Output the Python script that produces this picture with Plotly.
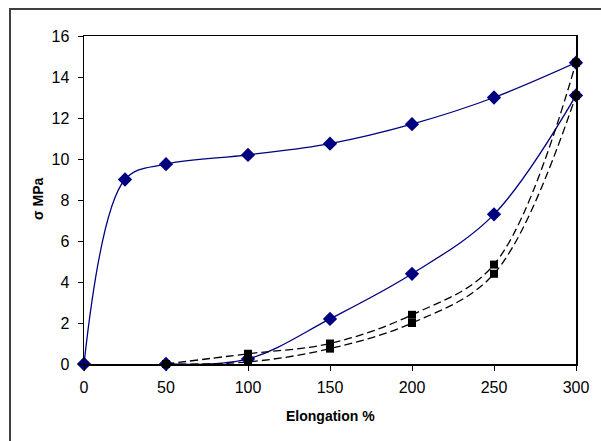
import plotly.graph_objects as go

# Data
x_a = [0, 25, 50, 100, 150, 200, 250, 300]
y_a = [0, 9.0, 9.75, 10.2, 10.75, 11.7, 13.0, 14.7]

x_b = [50, 100, 150, 200, 250, 300]
y_b = [0, 0.25, 2.2, 4.4, 7.3, 13.1]

x_c = [50, 100, 150, 200, 250, 300]
y_c = [0, 0.5, 1.0, 2.4, 4.85, 14.7]

x_d = [50, 100, 150, 200, 250, 300]
y_d = [0, 0.1, 0.75, 2.0, 4.4, 13.1]

x_ticks = [0, 50, 100, 150, 200, 250, 300]
y_ticks = [0, 2, 4, 6, 8, 10, 12, 14, 16]

NAVY = "#000080"
FONT = "Liberation Sans, Arial, sans-serif"

fig = go.Figure()

for xs, ys in [(x_a, y_a), (x_b, y_b)]:
    fig.add_trace(go.Scatter(
        x=xs, y=ys, mode="lines+markers",
        line=dict(color=NAVY, width=1.3, shape="spline", smoothing=1),
        marker=dict(symbol="diamond", size=11, color=NAVY),
        showlegend=False, cliponaxis=False, hoverinfo="skip"))

for xs, ys in [(x_c, y_c), (x_d, y_d)]:
    fig.add_trace(go.Scatter(
        x=xs, y=ys, mode="lines+markers",
        line=dict(color="black", width=1.3, shape="spline", smoothing=1, dash="8px,4px"),
        marker=dict(symbol="square", size=8, color="black"),
        showlegend=False, cliponaxis=False, hoverinfo="skip"))

axis_common = dict(
    showgrid=False, zeroline=False, showline=True, linecolor="black", linewidth=1.5,
    ticks="outside", ticklen=5, tickwidth=1, tickcolor="black",
    tickfont=dict(family=FONT, size=16, color="black"),
)

fig.update_xaxes(range=[0, 300], tickvals=x_ticks, mirror=True,
                 ticklabelstandoff=3, **axis_common)
fig.update_yaxes(range=[0, 16], tickvals=y_ticks, mirror=True,
                 ticklabelstandoff=5, **axis_common)

W, H = 601, 441
L, R, T, B = 84, 576, 36, 364
pw, ph = R - L, B - T

def px(v):
    return (v - L) / pw

def py(v):
    return (B - v) / ph

fig.update_layout(
    width=W, height=H,
    margin=dict(l=L, r=W - R, t=T, b=H - B, pad=0),
    paper_bgcolor="white", plot_bgcolor="white",
    font=dict(family=FONT, color="black"),
    shapes=[dict(type="rect", xref="paper", yref="paper",
                 x0=px(10), x1=px(700), y0=py(600), y1=py(9),
                 line=dict(color="#404040", width=2), layer="below")],
    annotations=[
        dict(text="<b>Elongation %</b>", xref="paper", yref="paper",
             x=0.5, y=py(416), showarrow=False,
             font=dict(family=FONT, size=14, color="black"),
             xanchor="center", yanchor="middle"),
        dict(text="<b>σ MPa</b>", xref="paper", yref="paper",
             x=px(38), y=py(199), showarrow=False, textangle=-90,
             font=dict(family=FONT, size=14, color="black"),
             xanchor="center", yanchor="middle"),
    ],
)

# Remove the default page margin so the figure sits at the window origin.
fig.write_html(
    "out.html",
    config={"displayModeBar": False, "staticPlot": True},
    post_script="document.body.style.margin='0';document.body.style.overflow='hidden';",
)
